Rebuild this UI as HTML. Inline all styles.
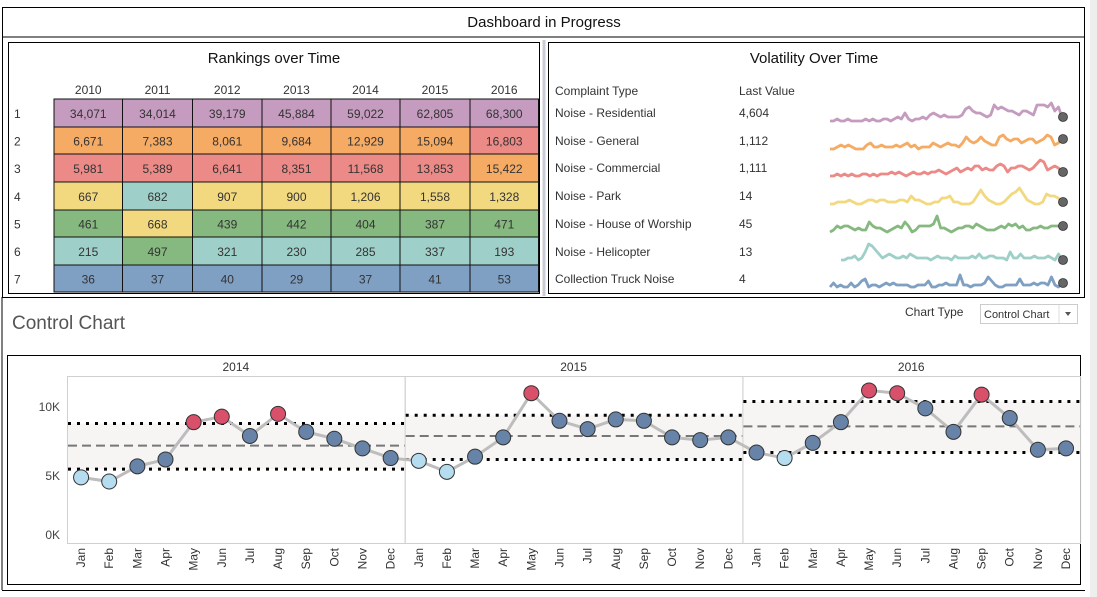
<!DOCTYPE html>
<html><head><meta charset="utf-8"><style>
body{margin:0;background:#fff;width:1097px;height:597px;overflow:hidden;font-family:"Liberation Sans",sans-serif}
svg{display:block}
text{font-family:"Liberation Sans",sans-serif}
</style></head><body>
<svg id="s" width="1097" height="597" viewBox="0 0 1097 597">
<rect x="1090" y="0" width="7" height="597" fill="#eeeeee"/>
<rect x="2.5" y="7.5" width="1082" height="290" fill="none" stroke="#000"/>
<line x1="2" y1="37" x2="1085" y2="37" stroke="#000"/>
<text x="544" y="27" font-size="15" text-anchor="middle" fill="#111">Dashboard in Progress</text>
<rect x="8.5" y="42.5" width="531" height="251" fill="none" stroke="#000"/>
<line x1="544" y1="40" x2="544" y2="296" stroke="#c8ccd6" stroke-width="3"/>
<rect x="548.5" y="42.5" width="531" height="251" fill="none" stroke="#000"/>
<text x="274" y="63" font-size="15" text-anchor="middle" fill="#111">Rankings over Time</text>
<text x="814" y="63" font-size="15" text-anchor="middle" fill="#111">Volatility Over Time</text>
<g id="table"></g>
<text x="555" y="95" font-size="12" fill="#333">Complaint Type</text>
<text x="739" y="95" font-size="12" fill="#333">Last Value</text>
<g id="spark"></g>
<text x="12" y="329" font-size="19" fill="#555">Control Chart</text>
<text x="905" y="316" font-size="12" fill="#333">Chart Type</text>
<g>
<rect x="980.5" y="304.5" width="97" height="19" fill="#fff" stroke="#ccc"/>
<line x1="1059" y1="305" x2="1059" y2="323" stroke="#ddd"/>
<text x="984" y="318" font-size="11" fill="#333">Control Chart</text>
<path d="M1065 312 l6 0 l-3 4 z" fill="#555"/>
</g>
<line x1="2" y1="297" x2="2" y2="590" stroke="#000"/>
<line x1="2" y1="590.5" x2="1085" y2="590.5" stroke="#000"/>
<rect x="7.5" y="355.5" width="1073" height="229" fill="none" stroke="#000"/>
<g id="cc"></g>
</svg>
<script>
const NS="http://www.w3.org/2000/svg";
function mk(tag,attrs,parent,txt){const e=document.createElementNS(NS,tag);for(const k in attrs)e.setAttribute(k,attrs[k]);if(txt!==undefined)e.textContent=txt;parent.appendChild(e);return e;}

// ---------- Rankings table data ----------
const years=["2010","2011","2012","2013","2014","2015","2016"];
const rankLabels=["1","2","3","4","5","6","7"];
const tableValues=[
["34,071","34,014","39,179","45,884","59,022","62,805","68,300"],
["6,671","7,383","8,061","9,684","12,929","15,094","16,803"],
["5,981","5,389","6,641","8,351","11,568","13,853","15,422"],
["667","682","907","900","1,206","1,558","1,328"],
["461","668","439","442","404","387","471"],
["215","497","321","230","285","337","193"],
["36","37","40","29","37","41","53"]];
const tableCats=[
["res","res","res","res","res","res","res"],
["gen","gen","gen","gen","gen","gen","com"],
["com","com","com","com","com","com","gen"],
["park","heli","park","park","park","park","park"],
["wor","park","wor","wor","wor","wor","wor"],
["heli","wor","heli","heli","heli","heli","heli"],
["truck","truck","truck","truck","truck","truck","truck"]];
const catColor={res:"#c59cbf",gen:"#f5ab64",com:"#ec8a87",park:"#f2d97f",wor:"#86b97f",heli:"#9fcfc9",truck:"#7f9fc3"};

const T=document.getElementById('table');
const colX=[54,122.5,192.5,262,331,400,470,538.5];
const rowY=[99,127,154,182,210,237,265,292];
years.forEach((y,i)=>{const t=mk('text',{x:(colX[i]+colX[i+1])/2,y:94,'font-size':12,'text-anchor':'middle',fill:'#333'},T,y);

});
rankLabels.forEach((r,ri)=>{
 const t=mk('text',{x:14,y:(rowY[ri]+rowY[ri+1])/2+5,'font-size':12,fill:'#333'},T,r);
 
 
 years.forEach((y,ci)=>{
  const c=mk('rect',{x:colX[ci],y:rowY[ri],width:colX[ci+1]-colX[ci],height:rowY[ri+1]-rowY[ri],fill:catColor[tableCats[ri][ci]],stroke:'#111','stroke-width':1},T);
  
  
  const v=mk('text',{x:(colX[ci]+colX[ci+1])/2,y:(rowY[ri]+rowY[ri+1])/2+5,'font-size':12,'text-anchor':'middle',fill:'#333'},T,tableValues[ri][ci]);
  
  
 });
});

// ---------- Sparklines ----------
const complaintTypes=["Noise - Residential","Noise - General","Noise - Commercial","Noise - Park","Noise - House of Worship","Noise - Helicopter","Collection Truck Noise"];
const lastValues=["4,604","1,112","1,111","14","45","13","4"];
const sparkColors=["#c59cbf","#f5ab64","#ec8a87","#f2d97f","#86b97f","#9fcfc9","#7f9fc3"];
const sparkRes=[1,1,2,1,1,2,1,1,1,1,2,1,2,1,1,2,2,1,2,3,2,5,2,1,2,2,3,2,4,5,4,3,4,3,3,3,3,4,7,8,6,5,5,4,3,4,9,7,8,7,6,6,5,4,6,6,5,4,9,9,9,8,10,6,8,3];
const sparkGen=[1,1,2,3,2,3,2,1,1,1,3,4,2,2,3,2,2,2,3,2,3,4,2,3,1,2,2,2,4,3,2,3,4,3,3,2,4,7,5,4,5,7,5,4,3,3,7,8,6,5,6,6,4,5,6,6,4,5,6,8,7,3,4,6];
const sparkCom=[1,1,2,1,2,1,2,1,1,2,2,1,2,1,2,2,2,3,2,3,2,1,2,3,2,2,3,2,3,3,4,3,2,3,4,5,3,4,5,4,6,6,4,5,4,4,6,7,6,3,5,5,6,6,5,4,5,7,9,8,4,5,6,5,3];
const sparkPark=[1,1,2,2,2,3,2,1,1,2,3,3,2,3,3,2,2,2,3,3,2,5,3,3,2,1,1,2,2,4,4,5,2,2,1,1,1,2,5,8,5,3,2,1,1,2,4,6,7,9,6,3,2,1,1,2,6,5,5,4,2];
const sparkWor=[1,2,4,3,4,4,3,2,3,2,2,6,4,3,3,2,1,2,3,4,3,6,4,1,2,4,4,4,4,5,9,3,3,2,1,2,3,3,4,4,3,5,4,3,2,2,2,3,4,3,5,4,5,3,4,2,2,3,3,4,3,3,4,4,4,4];
const sparkHeli=[1,1,2,2,3,1,2,5,9,8,6,4,2,3,4,3,2,2,3,2,4,3,2,2,2,2,1,2,3,2,2,2,1,3,2,2,2,2,3,2,4,2,2,3,3,2,2,2,1,5,2,2,4,2,2,2,3,2,2,2,3,2,1,4,1];
const sparkTruck=[1,3,1,2,1,1,3,1,2,4,5,1,2,2,1,2,3,2,3,2,2,2,2,1,1,2,2,2,4,1,1,2,2,3,2,2,2,7,2,2,1,2,2,2,3,6,4,2,1,1,2,2,2,2,5,2,2,2,3,2,3,3,2,6,2,1,3];
const sparkSeries=[sparkRes,sparkGen,sparkCom,sparkPark,sparkWor,sparkHeli,sparkTruck];
const sparkStart=[830,830,830,830,830,841,830];
const S=document.getElementById('spark');
const rowCY=[113,141,168,196,224,252,279];
complaintTypes.forEach((ct,i)=>{
 const a=mk('text',{x:555,y:rowCY[i]+4,'font-size':12,fill:'#333'},S,ct);
 
 
 const b=mk('text',{x:739,y:rowCY[i]+4,'font-size':12,fill:'#333'},S,lastValues[i]);
 
 
 const d=sparkSeries[i];const x0=sparkStart[i],x1=1062;
 const base=rowCY[i]+10;
 const pts=d.map((v,k)=>[x0+(x1-x0)*k/(d.length-1),base-v*2]);
 const p=mk('polyline',{points:pts.map(q=>q.join(',')).join(' '),fill:'none',stroke:sparkColors[i],'stroke-width':2.8,'stroke-linejoin':'round'},S);
 
 
 const last=pts[pts.length-1];
 const c=mk('circle',{cx:last[0]+1,cy:last[1],r:4.5,fill:'#666',stroke:'#333','stroke-width':0.8},S);
 
 
});

// ---------- Control chart ----------
const ccYears=["2014","2015","2016"];
const months=["Jan","Feb","Mar","Apr","May","Jun","Jul","Aug","Sep","Oct","Nov","Dec"];
const vals2014=[4.9,4.6,5.7,6.2,8.9,9.3,7.9,9.5,8.2,7.7,7.0,6.3];
const vals2015=[6.1,5.3,6.4,7.8,11.0,9.0,8.4,9.1,9.0,7.8,7.6,7.8];
const vals2016=[6.7,6.3,7.4,8.9,11.2,11.0,9.9,8.2,10.9,9.2,6.9,7.0];
const ccValues=[vals2014,vals2015,vals2016];
const ucl=[8.8,9.4,10.4];
const meanLine=[7.2,7.9,8.6];
const lcl=[5.5,6.2,6.7];
const yTicks=[0,5,10];
const yTickLabels=["0K","5K","10K"];

const C=document.getElementById('cc');
const plotTop=376,plotBot=543,plotL=67,panelW=337.7;
const y=v=>545-13.8*v;
const x=(p,m)=>plotL+p*panelW+panelW/12*(m+0.5);
yTicks.forEach((t,i)=>{
 const ty=Math.min(y(t),plotBot-8);
 const e=mk('text',{x:60,y:ty+4,'font-size':12,'text-anchor':'end',fill:'#444'},C,yTickLabels[i]);
 
 
});
ccYears.forEach((yr,p)=>{
 const px=plotL+p*panelW;
 const h=mk('text',{x:px+panelW/2,y:371,'font-size':12,'text-anchor':'middle',fill:'#333'},C,yr);
 
 
 const fr=mk('rect',{x:px+0.5,y:plotTop+0.5,width:panelW,height:plotBot-plotTop,fill:'none',stroke:'#d0d0d0'},C);
 
 
 const band=mk('rect',{x:px+1,y:y(ucl[p]),width:panelW-1,height:y(lcl[p])-y(ucl[p]),fill:'#f6f5f3'},C);
 
 
 const u=mk('line',{x1:px+1,x2:px+panelW,y1:y(ucl[p]),y2:y(ucl[p]),stroke:'#000','stroke-width':3,'stroke-dasharray':'3 6'},C);
 
 
 const l=mk('line',{x1:px+1,x2:px+panelW,y1:y(lcl[p]),y2:y(lcl[p]),stroke:'#000','stroke-width':3,'stroke-dasharray':'3 6'},C);
 
 
 const m=mk('line',{x1:px+1,x2:px+panelW,y1:y(meanLine[p]),y2:y(meanLine[p]),stroke:'#777','stroke-width':2,'stroke-dasharray':'9 5'},C);
 
 
 months.forEach((mo,mi)=>{
  const tx=x(p,mi);
  const t=mk('text',{x:0,y:0,'font-size':12,'text-anchor':'end',fill:'#333',transform:`translate(${tx+4},${548}) rotate(-90)`},C,mo);
  
  
 });
});
const allPts=[];
ccValues.forEach((arr,p)=>arr.forEach((v,m)=>allPts.push([x(p,m),y(v),v,p])));
const ln=mk('polyline',{points:allPts.map(q=>q[0]+','+q[1]).join(' '),fill:'none',stroke:'#bdbdbd','stroke-width':3},C);


allPts.forEach(q=>{
 const v=q[2],p=q[3];
 const col=v>ucl[p]?'#d9506a':(v<lcl[p]?'#b5dcef':'#6783a8');
 const c=mk('circle',{cx:q[0],cy:q[1],r:7.5,fill:col,stroke:'#333','stroke-width':1},C);
 
 
});
</script>
</body></html>
